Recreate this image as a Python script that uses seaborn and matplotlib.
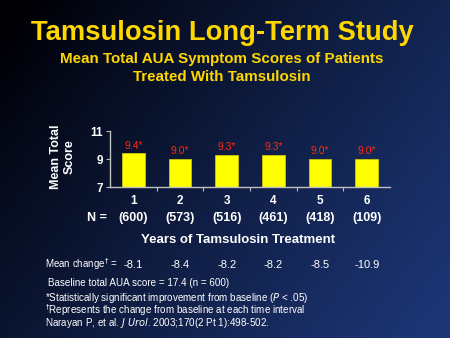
import numpy as np
import pandas as pd
import matplotlib
matplotlib.use("Agg")
import matplotlib.pyplot as plt
import matplotlib.transforms as mtransforms
import seaborn as sns

years = ["1", "2", "3", "4", "5", "6"]
scores = [9.4, 9.0, 9.3, 9.3, 9.0, 9.0]
score_labels = ["9.4*", "9.0*", "9.3*", "9.3*", "9.0*", "9.0*"]
n_values = ["(600)", "(573)", "(516)", "(461)", "(418)", "(109)"]
mean_change = ["-8.1", "-8.4", "-8.2", "-8.2", "-8.5", "-10.9"]
y_ticks = [7, 9, 11]

sns.set_theme(style="white")
plt.rcParams['font.family'] = ['Liberation Sans', 'DejaVu Sans']

W, H = 450, 338
fig = plt.figure(figsize=(W / 100, H / 100), dpi=100)

# background gradient
bg = fig.add_axes([0, 0, 1, 1], zorder=-10)
gx = np.linspace(0, 1, 200)
gy = np.linspace(0, 1, 150)
X, Y = np.meshgrid(gx, gy)
t = np.clip(0.7 * X + 0.4 * Y - 0.05, 0, 1) ** 0.9
c0 = np.array([0.0, 0.0, 0.02])
c1 = np.array([0.11, 0.21, 0.46])
img = c0 + (c1 - c0) * t[..., None]
bg.imshow(img, aspect='auto', extent=[0, 1, 0, 1], origin='upper')
bg.set_axis_off()

ax = fig.add_axes([110 / W, 1 - 187 / H, 280 / W, 56 / H])
ax.set_facecolor('none')
df = pd.DataFrame({"year": years, "score": scores})
sns.barplot(data=df, x="year", y="score", color="#ffff00", width=0.49,
            saturation=1, ax=ax, edgecolor="#d8d000", linewidth=0.5)
ax.set_ylim(7, 11)
ax.set_xlim(-0.5, 5.5)
ax.set_yticks(y_ticks)
ax.set_yticklabels([str(v) for v in y_ticks], color='white', fontsize=8.5,
                   fontweight='bold')
ax.set_xticks(range(len(years)))
ax.set_xticklabels(years, color='white', fontsize=8.5, fontweight='bold')
ax.set_xticks(np.arange(0.5, 5.5, 1), minor=True)
ax.tick_params(axis='x', which='major', length=0, pad=6)
ax.tick_params(axis='x', which='minor', length=3, color='#c0c0c0', width=0.8,
               direction='out', bottom=True)
ax.tick_params(axis='y', length=3, color='#c0c0c0', width=0.8, pad=2,
               direction='out', left=True)
for s in ['top', 'right']:
    ax.spines[s].set_visible(False)
for s in ['left', 'bottom']:
    ax.spines[s].set_color('#c0c0c0')
    ax.spines[s].set_linewidth(1.0)
ax.set_xlabel("")
ax.set_ylabel("")

for i, (v, lab) in enumerate(zip(scores, score_labels)):
    ax.text(i, v + 0.2, lab, color='#ff2a10', fontsize=7.5, ha='center',
            va='bottom')

# y label
fig.text(63 / W, 1 - 157 / H, "Mean Total\nScore", rotation=90, color='white',
         fontsize=9, fontweight='bold', ha='center', va='center',
         linespacing=1.25)

# N row
blend = mtransforms.blended_transform_factory(ax.transData, fig.transFigure)
fig.text(97 / W, 1 - 218 / H, "N =", color='white', fontsize=9,
         fontweight='bold', ha='center', va='center')
for i, n in enumerate(n_values):
    ax.text(i, 1 - 218 / H, n, transform=blend, color='white', fontsize=9,
            fontweight='bold', ha='center', va='center')

fig.text(238 / W, 1 - 240 / H, "Years of Tamsulosin Treatment", color='white',
         fontsize=9.5, fontweight='bold', ha='center', va='center')

# mean change row
fig.text(45 / W, 1 - 264 / H, "Mean change$^{\\dagger}$ =", color='white',
         fontsize=7, ha='left', va='center')
for i, m in enumerate(mean_change):
    ax.text(i, 1 - 265 / H, m, transform=blend, color='white', fontsize=8,
            ha='center', va='center')

fs = 7.1
fig.text(48 / W, 1 - 283 / H, "Baseline total AUA score = 17.4 (n = 600)",
         color='white', fontsize=fs, ha='left', va='center')
footnotes = "\n".join([
    "*Statistically significant improvement from baseline ($\\it{P}$ < .05)",
    "$^{\\dagger}$Represents the change from baseline at each time interval",
    "Narayan P, et al. $\\it{J\\ Urol}$. 2003;170(2 Pt 1):498-502.",
])
fig.text(45 / W, 1 - 310.5 / H, footnotes, color='white', fontsize=fs,
         ha='left', va='center', linespacing=0.8)

# titles
fig.text(222 / W, 1 - 33 / H, "Tamsulosin Long-Term Study", color='#ffd700',
         fontsize=19.7, fontweight='bold', ha='center', va='center')
fig.text(222 / W, 1 - 59 / H, "Mean Total AUA Symptom Scores of Patients",
         color='#ffd700', fontsize=10.9, fontweight='bold', ha='center',
         va='center')
fig.text(222 / W, 1 - 77 / H, "Treated With Tamsulosin", color='#ffd700',
         fontsize=10.9, fontweight='bold', ha='center', va='center')

fig.savefig("out.png", dpi=100)
